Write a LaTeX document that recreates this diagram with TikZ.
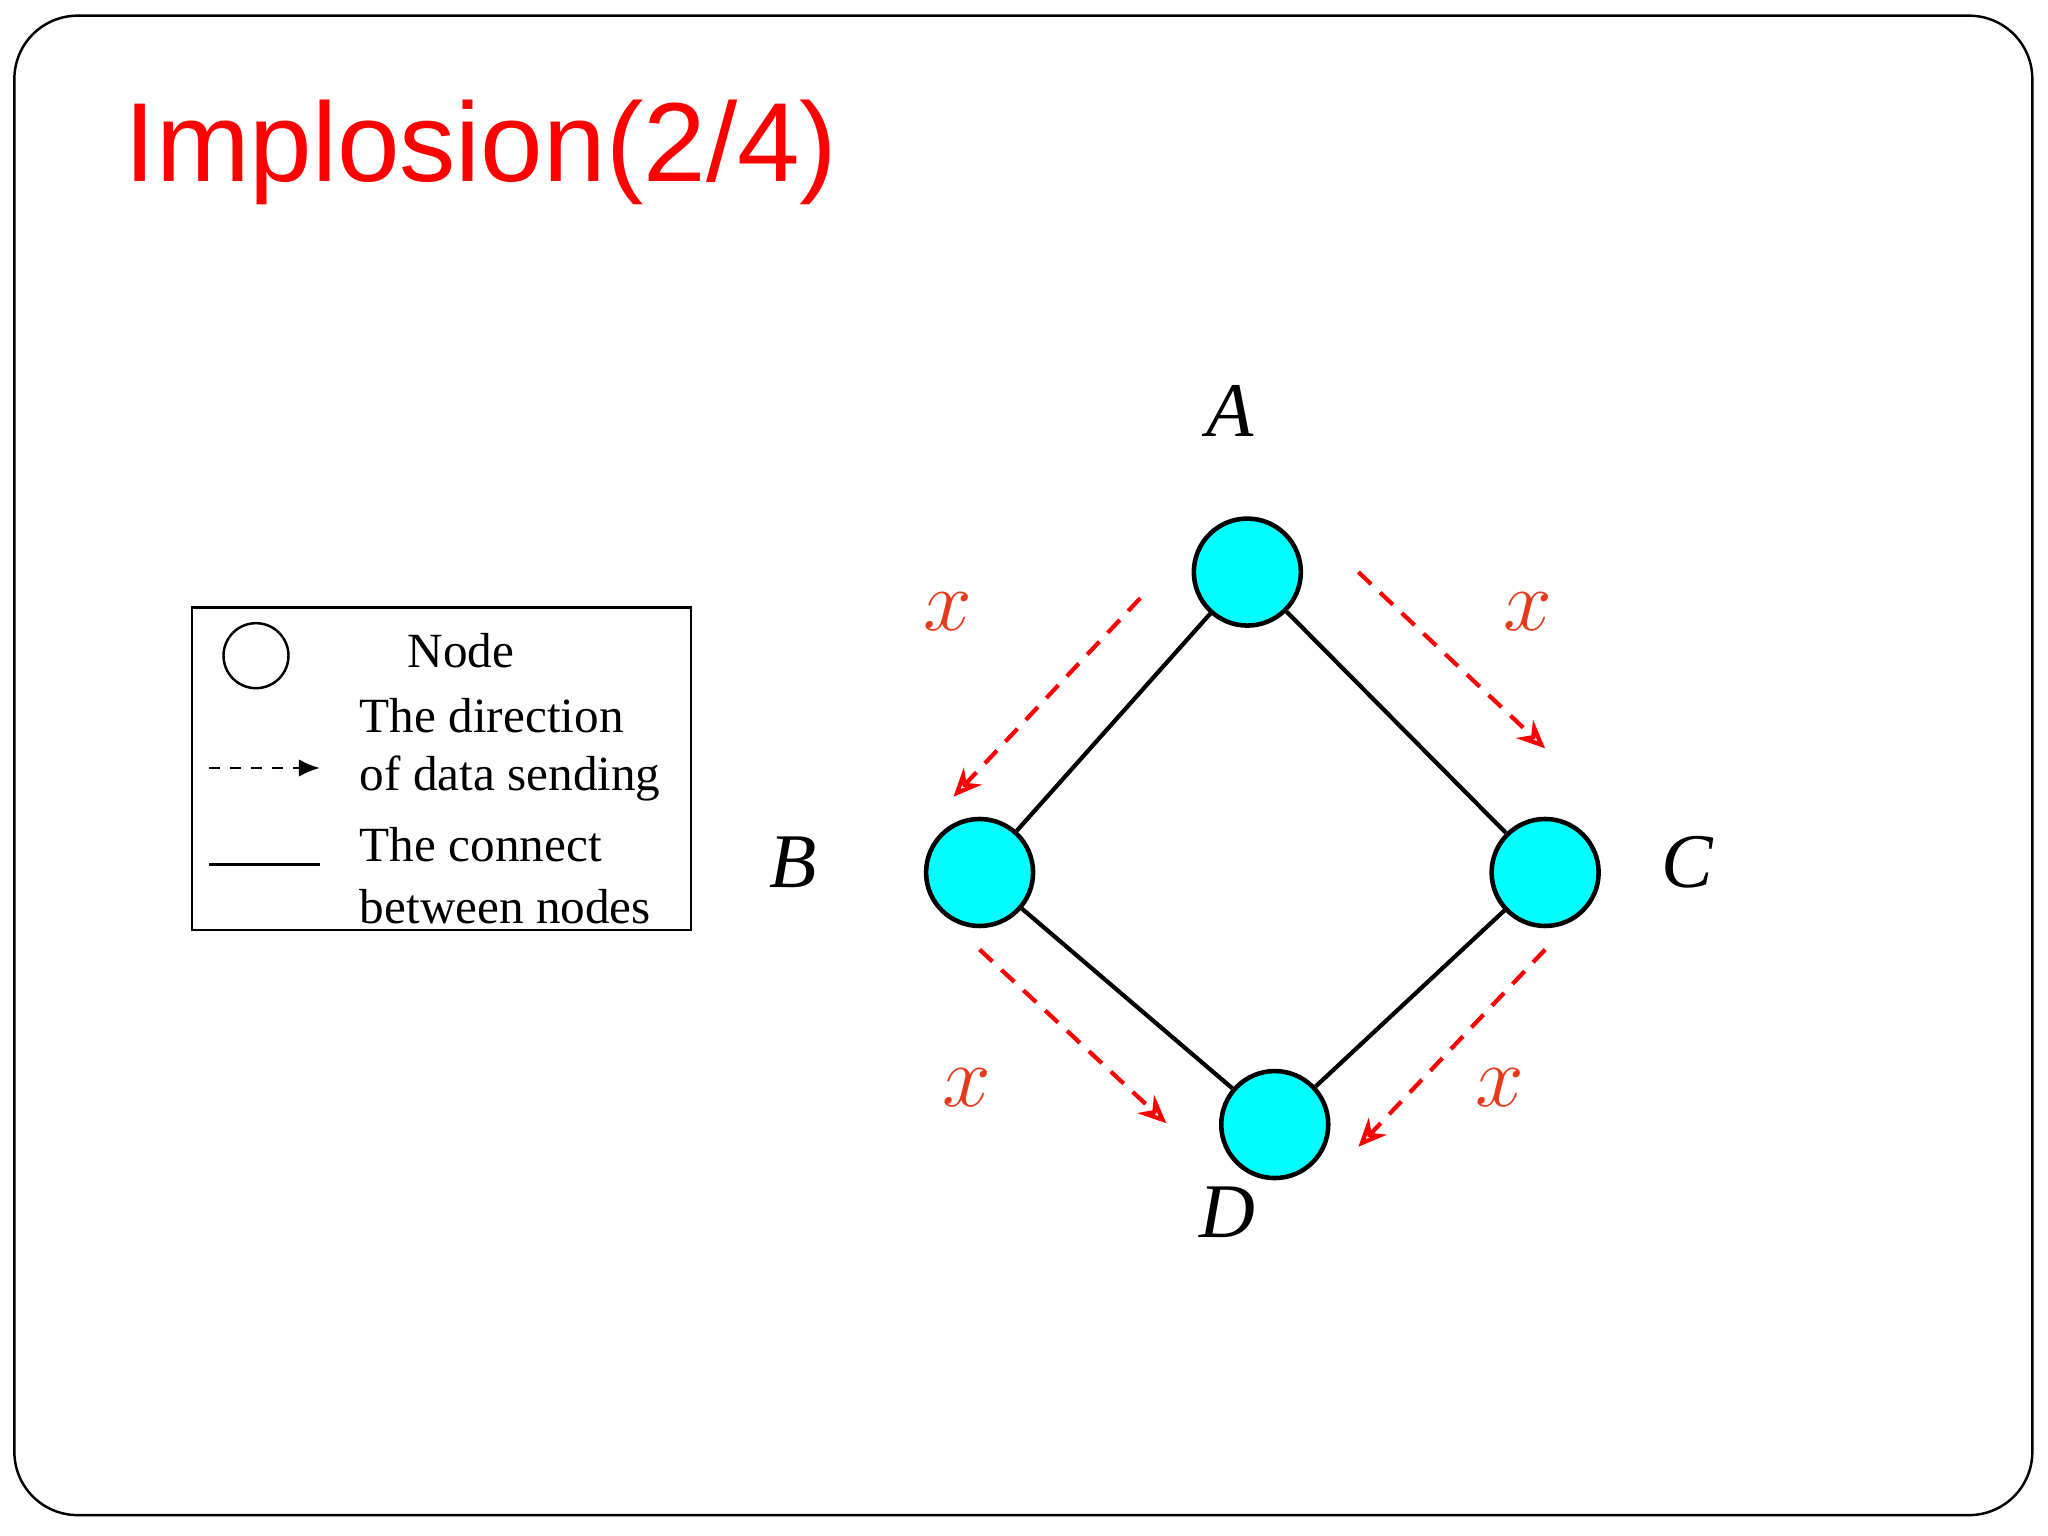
\documentclass[tikz,border=0pt]{standalone}
\usepackage{fontspec}
\setmainfont{Liberation Serif}
\newfontfamily\arialf{Liberation Sans}
\usetikzlibrary{arrows.meta}
\definecolor{nodecyan}{RGB}{0,255,255}
\definecolor{xred}{RGB}{232,58,26}
\begin{document}
\begin{tikzpicture}[x=0.01306cm,y=-0.01306cm,
  nd/.style={circle,draw,line width=1.3pt,fill=nodecyan,minimum size=1.07cm,inner sep=0pt},
  lnk/.style={line width=1.2pt},
  snd/.style={red,line width=1.2pt,dash pattern=on 5pt off 3.5pt,-{Stealth[open,length=8pt,width=7pt]}},
  lab/.style={font=\fontsize{22}{26}\selectfont\itshape},
  xl/.style={font=\fontsize{23}{26}\selectfont\itshape,text=xred},
  lt/.style={font=\fontsize{14}{16}\selectfont,anchor=west,inner sep=0pt}]
\useasboundingbox (0,0) rectangle (1568,1176);
\draw[line width=0.7pt,rounded corners=18pt] (11,12) rectangle (1556,1160);
\node[anchor=west,inner sep=0pt,red,font=\arialf\fontsize{32}{36}\selectfont] (title) at (95,117) {Implosion(2/4)};
% legend
\node[draw,line width=0.7pt,minimum width=382*0.01306cm,minimum height=247*0.01306cm,inner sep=0pt] (leg) at (338,588.5) {};
\node[circle,draw,line width=0.7pt,minimum size=0.65cm,inner sep=0pt] (lc) at (196,502) {};
\node[lt,anchor=center] (t0) at (353,498) {Node};
\node[lt] (t1) at (275,548) {The direction};
\node[lt] (t2) at (275,596) {of data sending};
\node[lt] (t3) at (275,647) {The connect};
\node[lt] (t4) at (275,694) {between nodes};
\coordinate (la1) at (160,588); \coordinate (la2) at (245,588);
\coordinate (ll1) at (160,662); \coordinate (ll2) at (245,662);
\draw[dashed,line width=0.8pt,-{Latex[length=6pt,width=5pt]}] (la1) -- (la2);
\draw[line width=0.8pt] (ll1) -- (ll2);
% nodes
\node[nd] (A) at (955,438) {};
\node[nd] (B) at (750,668) {};
\node[nd] (C) at (1183,668) {};
\node[nd] (D) at (976,861) {};
\draw[lnk] (A) -- (B); \draw[lnk] (A) -- (C);
\draw[lnk] (B) -- (D); \draw[lnk] (C) -- (D);
\node[lab] (lA) at (942,315) {A};
\node[lab] (lB) at (607,660) {B};
\node[lab] (lC) at (1292,660) {C};
\node[lab] (lD) at (940,928) {D};
\coordinate (s1) at (873,458); \coordinate (e1) at (730,610);
\coordinate (s2) at (1040,438); \coordinate (e2) at (1183,573);
\coordinate (s3) at (750,727); \coordinate (e3) at (893,860);
\coordinate (s4) at (1183,727); \coordinate (e4) at (1040,878);
\draw[snd] (s1) -- (e1); \draw[snd] (s2) -- (e2);
\draw[snd] (s3) -- (e3); \draw[snd] (s4) -- (e4);
\node[xl] (x1) at (726,468) {$x$};
\node[xl] (x2) at (1170,468) {$x$};
\node[xl] (x3) at (740,833) {$x$};
\node[xl] (x4) at (1148,833) {$x$};
\end{tikzpicture}
\end{document}
